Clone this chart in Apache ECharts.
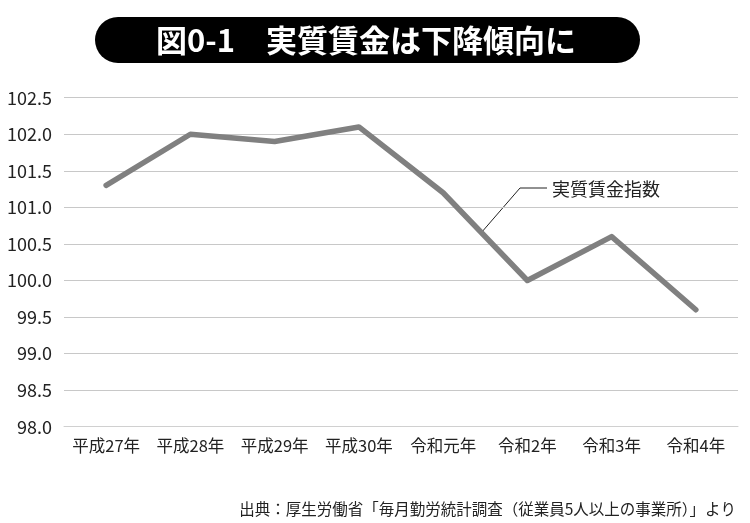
<!DOCTYPE html>
<html><head><meta charset="utf-8">
<script src="https://cdn.jsdelivr.net/npm/echarts@6/dist/echarts.min.js"></script>
<style>html,body{margin:0;padding:0;background:#fff}#c{width:750px;height:523px}</style>
</head><body><div id="c"></div>
<script>
const categories = ['平成27年','平成28年','平成29年','平成30年','令和元年','令和2年','令和3年','令和4年'];
const values = [101.3, 102.0, 101.9, 102.1, 101.2, 100.0, 100.6, 99.6];
const seriesName = '実質賃金指数';
const titleText = '図0-1　実質賃金は下降傾向に';
const sourceText = '出典：厚生労働省「毎月勤労統計調査（従業員5人以上の事業所）」より';

const FONT = '"Noto Sans CJK JP", "Noto Sans", sans-serif';
const chart = echarts.init(document.getElementById('c'));
chart.setOption({
  animation: false,
  textStyle: {fontFamily: FONT},
  grid: {left: 64, right: 12, top: 97.7, bottom: 96.3},
  xAxis: {
    type: 'category', data: categories, boundaryGap: true,
    axisLine: {lineStyle: {color: '#d0d0d0', width: 1}},
    axisTick: {show: false},
    axisLabel: {color: '#222', fontSize: 16.5, margin: 11, interval: 0, fontFamily: FONT}
  },
  yAxis: {
    type: 'value', min: 98, max: 102.5, interval: 0.5,
    axisLine: {show: false}, axisTick: {show: false},
    splitLine: {lineStyle: {color: '#c8c8c8', width: 1}},
    axisLabel: {color: '#222', fontSize: 18, margin: 12, fontFamily: FONT,
      formatter: v => v.toFixed(1)}
  },
  series: [{
    name: seriesName, type: 'line', data: values,
    symbol: 'none', lineStyle: {color: '#808080', width: 5.5, cap: 'round', join: 'round'}
  }],
  graphic: [
    {type: 'rect', shape: {x: 95, y: 17, width: 545, height: 46, r: 23}, style: {fill: '#000'}},
    {type: 'text', x: 366, y: 40, style: {text: titleText, fill: '#fff', font: 'bold 31px ' + FONT, align: 'center', verticalAlign: 'middle'}},
    {type: 'polyline', shape: {points: [[481, 233], [520, 188], [547, 188]]}, style: {stroke: '#222', lineWidth: 1, fill: null}},
    {type: 'text', x: 552, y: 189, style: {text: seriesName, fill: '#222', font: '18px ' + FONT, align: 'left', verticalAlign: 'middle'}},
    {type: 'text', x: 736, y: 509, style: {text: sourceText, fill: '#222', font: '15.5px ' + FONT, align: 'right', verticalAlign: 'middle'}}
  ]
});
</script></body></html>
